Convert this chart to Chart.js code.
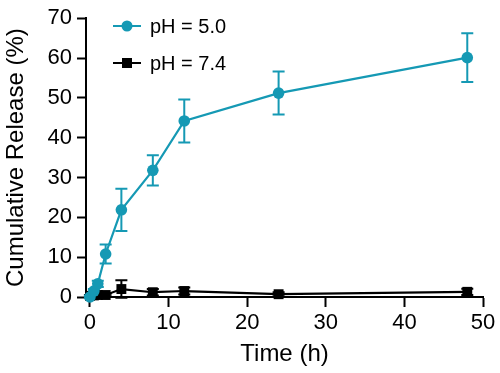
<!DOCTYPE html>
<html>
<head>
<meta charset="utf-8">
<script src="https://cdn.jsdelivr.net/npm/chart.js@4.4.0/dist/chart.umd.min.js"></script>
<style>
html, body { margin: 0; padding: 0; background: #fff; }
</style>
</head>
<body>
<canvas id="chart" width="500" height="373"></canvas>
<script>
// release data
var time = [0, 0.5, 1, 2, 4, 8, 12, 24, 48];
var ph50 = [0, 1.5, 3.3, 10.8, 21.9, 31.8, 44.2, 51.2, 60.1];
var ph50Err = [0.3, 0.5, 0.8, 2.4, 5.3, 3.8, 5.4, 5.4, 6.1];
var ph74 = [0.3, 0.4, 0.5, 0.5, 2.0, 1.2, 1.5, 0.7, 1.3];
var ph74Err = [0.2, 0.2, 0.3, 0.3, 2.2, 0.8, 0.9, 0.5, 0.8];
var xTicks = [0, 10, 20, 30, 40, 50];

var cyan = '#1599b4';
var font = 'Liberation Sans, Arial, sans-serif';

function pts(ys) {
    return time.map(function (t, i) { return { x: t, y: ys[i] }; });
}

var errorBars = {
    id: 'errorBars',
    beforeDatasetsDraw: function (chart) {
        var ctx = chart.ctx, xs = chart.scales.x, ys = chart.scales.y;
        chart.data.datasets.slice().reverse().forEach(function (ds) {
            ctx.save();
            ctx.strokeStyle = ds.borderColor;
            ctx.lineWidth = 2;
            ds.data.forEach(function (p, i) {
                var e = ds.errors[i];
                var px = xs.getPixelForValue(p.x);
                var top = ys.getPixelForValue(p.y + e);
                var bot = ys.getPixelForValue(p.y - e);
                ctx.beginPath();
                ctx.moveTo(px, top); ctx.lineTo(px, bot);
                ctx.moveTo(px - 6, top); ctx.lineTo(px + 6, top);
                ctx.moveTo(px - 6, bot); ctx.lineTo(px + 6, bot);
                ctx.stroke();
            });
            ctx.restore();
        });
    }
};

// legend inside the plot, line + marker like the original
var innerLegend = {
    id: 'innerLegend',
    afterDraw: function (chart) {
        var ctx = chart.ctx;
        var rows = [26, 63];
        chart.data.datasets.forEach(function (ds, i) {
            var y = rows[i];
            ctx.save();
            ctx.strokeStyle = ds.borderColor;
            ctx.fillStyle = ds.borderColor;
            ctx.lineWidth = 2;
            ctx.beginPath();
            ctx.moveTo(113, y); ctx.lineTo(141, y);
            ctx.stroke();
            if (ds.pointStyle === 'rect') {
                ctx.fillRect(127 - 5, y - 5, 10, 10);
            } else {
                ctx.beginPath();
                ctx.arc(127, y, 5.5, 0, Math.PI * 2);
                ctx.fill();
            }
            ctx.fillStyle = '#000';
            ctx.font = '20px ' + font;
            ctx.textBaseline = 'middle';
            ctx.fillText(ds.label, 150, y + 1);
            ctx.restore();
        });
    }
};

var ctx = document.getElementById('chart').getContext('2d');
var myChart = new Chart(ctx, {
    type: 'line',
    data: {
        datasets: [{
            label: 'pH = 5.0',
            data: pts(ph50),
            errors: ph50Err,
            borderColor: cyan,
            backgroundColor: cyan,
            borderWidth: 2.2,
            pointStyle: 'circle',
            pointRadius: 5.8,
            pointBorderWidth: 0,
            clip: false
        }, {
            label: 'pH = 7.4',
            data: pts(ph74),
            errors: ph74Err,
            borderColor: '#000',
            backgroundColor: '#000',
            borderWidth: 2.2,
            pointStyle: 'rect',
            pointRadius: 7,
            pointBorderWidth: 0,
            clip: false
        }]
    },
    options: {
        responsive: false,
        animation: false,
        layout: { padding: { top: 13, right: 17, left: 0, bottom: 0 } },
        plugins: { legend: { display: false }, tooltip: { enabled: false } },
        scales: {
            x: {
                type: 'linear', min: -0.5, max: 50,
                afterBuildTicks: function (s) { s.ticks = xTicks.map(function (v) { return { value: v }; }); },
                afterFit: function (s) { s.height = 76; },
                grid: { drawOnChartArea: false, tickLength: 10, tickWidth: 2, tickColor: '#000' },
                border: { color: '#000', width: 2 },
                ticks: { color: '#000', font: { family: font, size: 22 }, padding: 3, maxRotation: 0 },
                title: { display: true, text: 'Time (h)', color: '#000', font: { family: font, size: 24 }, padding: { top: 0, bottom: 4 } }
            },
            y: {
                min: 0, max: 70,
                afterFit: function (s) { s.width = 86; },
                grid: { drawOnChartArea: false, tickLength: 9, tickWidth: 2, tickColor: '#000' },
                border: { color: '#000', width: 2 },
                ticks: { stepSize: 10, color: '#000', font: { family: font, size: 22 }, padding: 5 },
                title: { display: true, text: 'Cumulative Release (%)', color: '#000', font: { family: font, size: 24 }, padding: { top: 2, bottom: 0 } }
            }
        }
    },
    plugins: [errorBars, innerLegend]
});
</script>
</body>
</html>
